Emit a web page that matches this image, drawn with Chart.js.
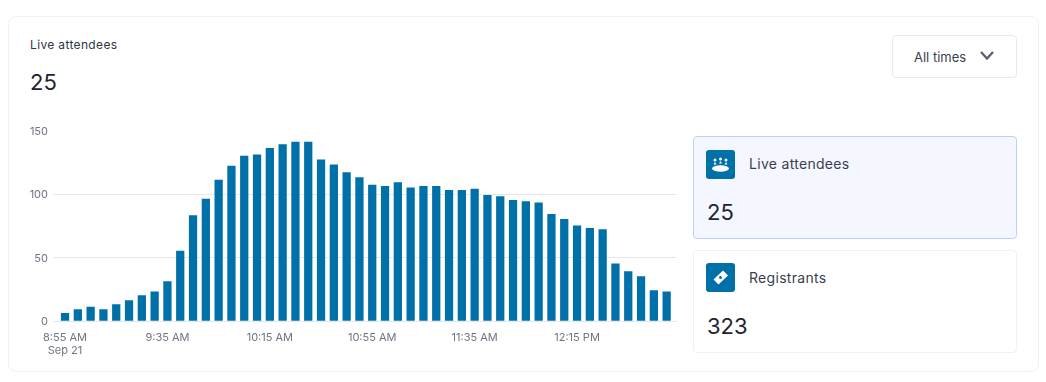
<!DOCTYPE html>
<html>
<head>
<meta charset="utf-8">
<script src="https://cdn.jsdelivr.net/npm/chart.js@4"></script>
<style>
    html, body { margin: 0; padding: 0; background: #fff; }
    body { width: 1046px; height: 382px; position: relative; overflow: hidden; font-family: Inter, sans-serif; color: #1f2430; }
    .abs { position: absolute; white-space: nowrap; }
    .card { position: absolute; box-sizing: border-box; border-radius: 4px; }
    .icon { position: absolute; left: 706px; width: 29px; height: 29px; border-radius: 3px; background: #0070a8; }
    #frame { left: 8px; top: 16px; width: 1031px; height: 356px; border: 1px solid #f0f1f3; border-radius: 8px; }
    #canvasBox { position: absolute; left: 0; top: 119px; }
</style>
</head>
<body>
<div id="frame" class="card"></div>

<div class="abs" style="left:30px;top:37px;font-size:12px;line-height:16px;font-weight:400;letter-spacing:.35px;color:#2f3443;">Live attendees</div>
<div class="abs" style="left:30px;top:68px;font-size:22px;line-height:28px;">25</div>

<div class="card" style="left:892px;top:35px;width:125px;height:43px;border:1px solid #e8e9ed;"></div>
<div class="abs" style="left:914px;top:48px;font-size:13px;line-height:18px;color:#3a3f4e;">All times</div>
<svg class="abs" style="left:979px;top:50px;" width="16" height="12" viewBox="0 0 16 12">
    <path d="M2 2 L8 8.5 L14 2" fill="none" stroke="#5c6272" stroke-width="2.4"/>
</svg>

<div class="card" style="left:693px;top:136px;width:324px;height:103px;background:#f4f7ff;border:1px solid #bdd0fb;"></div>
<div class="icon" style="top:150px;">
    <svg width="29" height="29" viewBox="0 0 29 29" fill="#fff">
        <ellipse cx="14.5" cy="18.5" rx="8.5" ry="3.2"/>
        <circle cx="9" cy="10" r="1.5"/><circle cx="14.5" cy="9" r="1.5"/><circle cx="20" cy="10" r="1.5"/>
        <path d="M7.5 14.5 L9 12 L10.5 14.5 Z M13 13.5 L14.5 11 L16 13.5 Z M18.5 14.5 L20 12 L21.5 14.5 Z"/>
    </svg>
</div>
<div class="abs" style="left:749px;top:155px;font-size:14px;line-height:18px;font-weight:400;letter-spacing:.3px;color:#3a3f4e;">Live attendees</div>
<div class="abs" style="left:707px;top:198px;font-size:22px;line-height:28px;">25</div>

<div class="card" style="left:693px;top:250px;width:324px;height:103px;border:1px solid #f0f1f3;"></div>
<div class="icon" style="top:263px;">
    <svg width="29" height="29" viewBox="0 0 29 29">
        <path d="M17 7.5 L22 12.5 L12.5 21.5 L7.5 16.5 Z" fill="#fff"/>
        <circle cx="14.5" cy="14.5" r="1.5" fill="#0070a8"/>
    </svg>
</div>
<div class="abs" style="left:749px;top:269px;font-size:14px;line-height:18px;font-weight:400;letter-spacing:.3px;color:#3a3f4e;">Registrants</div>
<div class="abs" style="left:707px;top:312px;font-size:22px;line-height:28px;">323</div>

<div id="canvasBox"><canvas id="chart" width="690" height="250"></canvas></div>

<script>
'use strict';

// Chart data
const attendees = [
    6, 9, 11, 9, 13, 16, 20, 23, 31, 55, 83, 96,
    111, 122, 130, 131, 136, 139, 141, 141, 127, 123, 117, 113,
    107, 106, 109, 105, 106, 106, 103, 103, 104, 99, 98, 95,
    94, 93, 84, 80, 75, 73, 72, 45, 39, 35, 24, 23
];
const tickLabels = ['8:55 AM', '9:35 AM', '10:15 AM', '10:55 AM', '11:35 AM', '12:15 PM'];
const dateLabel = 'Sep 21';
const yTicks = [0, 50, 100, 150];

// One tick every 8 bars (40 minutes)
const barsPerTick = 8;
const tickColor = '#6f7480';
const gridColor = '#e6e7ea';
const tickFont = { family: 'Inter', size: 11 };

new Chart(document.getElementById('chart').getContext('2d'), {
    type: 'bar',
    data: {
        datasets: [{
            label: 'Live attendees',
            data: attendees.map((v, i) => ({ x: i, y: v })),
            backgroundColor: '#0070a8',
            barThickness: 7.6
        }]
    },
    options: {
        responsive: false,
        animation: false,
        layout: { padding: { top: 10, right: 14, left: 0, bottom: 0 } },
        plugins: { legend: { display: false }, tooltip: { enabled: false } },
        scales: {
            x: {
                type: 'linear',
                offset: false,
                min: -0.94,
                max: 47.73,
                afterFit: (scale) => { scale.height = 48; },
                afterBuildTicks: (scale) => {
                    scale.ticks = tickLabels.map((_, i) => ({ value: i * barsPerTick }));
                },
                grid: { display: false, offset: false },
                border: { display: true, color: gridColor },
                ticks: {
                    color: tickColor,
                    font: tickFont,
                    padding: 2,
                    maxRotation: 0,
                    autoSkip: false,
                    callback: (value) => {
                        let label = tickLabels[value / barsPerTick];
                        return value == 0 ? [label, dateLabel] : label;
                    }
                }
            },
            y: {
                min: 0,
                max: 150,
                afterFit: (scale) => { scale.width = 53; },
                afterBuildTicks: (scale) => {
                    scale.ticks = yTicks.map((v) => ({ value: v }));
                },
                // No line at the top tick
                grid: {
                    color: (ctx) => ctx.tick && ctx.tick.value == 150 ? 'transparent' : gridColor,
                    drawTicks: false
                },
                border: { display: false },
                ticks: { color: tickColor, font: tickFont, padding: 5, labelOffset: 1 }
            }
        }
    }
});
</script>
</body>
</html>
